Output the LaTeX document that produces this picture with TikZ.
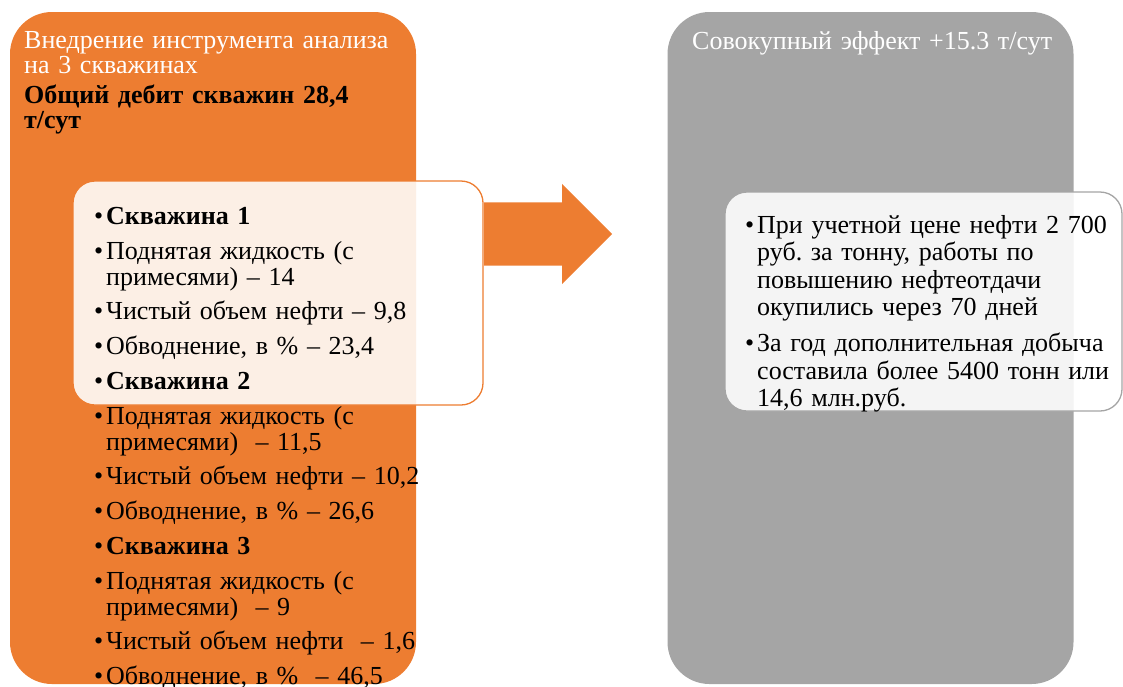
\documentclass[tikz,border=0pt]{standalone}
\usepackage{fontspec}
\setmainfont{Liberation Serif}
\usetikzlibrary{positioning,shapes.arrows}

\definecolor{accorange}{HTML}{ED7D31}
\definecolor{accgray}{HTML}{A5A5A5}

\newcommand{\bitem}[2][8.9pt]{\noindent\makebox[12pt][l]{•}%
  \parbox[t]{\dimexpr\linewidth-12pt\relax}{#2}\par\vskip #1}

\begin{document}
\frenchspacing
\begin{tikzpicture}[x=1pt,y=-1pt]
  \tikzset{
    column/.style={rounded corners=42pt, minimum width=406pt, minimum height=672pt, inner sep=0pt},
    inset/.style={rounded corners=22pt, fill=white, fill opacity=0.88, line width=1.3pt, inner sep=0pt},
    heading/.style={anchor=north west, inner sep=0pt, align=left, text width=390pt, text=white,
      font=\fontsize{26}{25.2}\selectfont},
    bullets/.style={anchor=north west, inner sep=0pt, align=left, text width=#1}
  }
  \useasboundingbox (0,0) rectangle (1123,686);

  \node[column, fill=accorange] (impl) at (213,348) {};
  \node[column, fill=accgray] (effect) at (870.5,348) {};

  \node[single arrow, fill=accorange, anchor=tail, minimum height=128pt, minimum width=100pt,
    single arrow head extend=18.5pt, inner xsep=0pt, inner ysep=31.5pt] (arrow) at (484,234) {};

  \node[inset, draw=accorange, minimum width=410pt, minimum height=224pt] (wells) at (278,293) {};
  \node[inset, draw=accgray, minimum width=397pt, minimum height=219pt] (payback) at (923.5,301.5) {};

  \node[heading] (impltitle) at (24,31) {Внедрение инструмента анализа\\на 3 скважинах\\[5pt]%
    {\color{black}\bfseries Общий дебит скважин 28,4\\т/сут}};
  \node[heading] (effecttitle) at (692,31) {Совокупный эффект +15.3 т/сут};

  \node[bullets=370pt, font=\fontsize{26}{26}\selectfont] (welllist) at (94,207.5) {
    \bitem{\textbf{Скважина 1}}
    \bitem{Поднятая жидкость (с\\примесями) – 14}
    \bitem{Чистый объем нефти – 9,8}
    \bitem{Обводнение, в \% – 23,4}
    \bitem{\textbf{Скважина 2}}
    \bitem{Поднятая жидкость (с\\примесями) ~– 11,5}
    \bitem{Чистый объем нефти – 10,2}
    \bitem{Обводнение, в \% – 26,6}
    \bitem{\textbf{Скважина 3}}
    \bitem{Поднятая жидкость (с\\примесями) ~– 9}
    \bitem{Чистый объем нефти ~– 1,6}
    \bitem{Обводнение, в \% ~– 46,5}
  };

  \node[bullets=380pt, font=\fontsize{26}{27.4}\selectfont] (effectlist) at (745,215) {
    \bitem[11pt]{При учетной цене нефти 2 700\\руб. за тонну, работы по\\повышению нефтеотдачи\\окупились через 70 дней}
    \bitem[11pt]{За год дополнительная добыча\\составила более 5400 тонн или\\14,6 млн.руб.}
  };
\end{tikzpicture}
\end{document}
